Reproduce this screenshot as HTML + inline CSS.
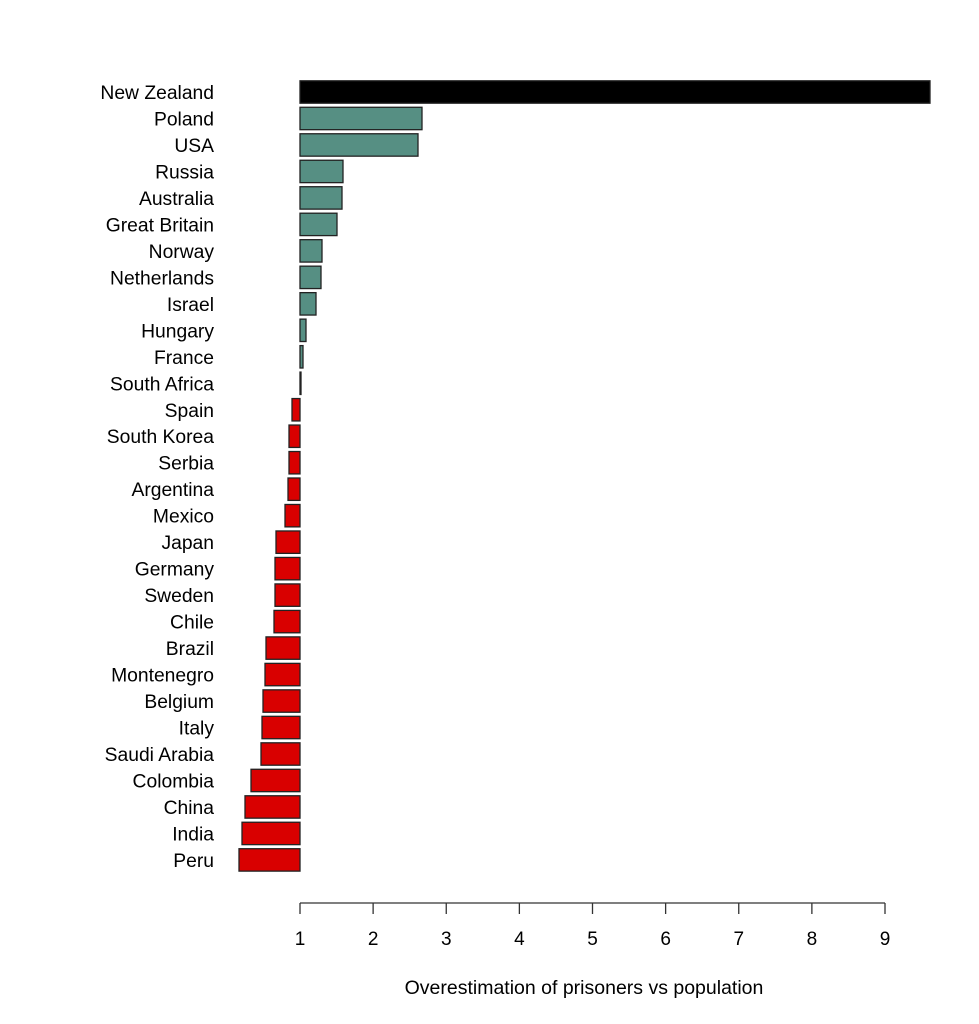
<!DOCTYPE html>
<html><head><meta charset="utf-8"><style>body{margin:0;background:#fff}svg{display:block}</style></head>
<body>
<svg width="979" height="1024" xmlns="http://www.w3.org/2000/svg" font-family="Liberation Sans, Arial, sans-serif">
<g id="bars" stroke="#222" stroke-width="1.3"></g>
<g id="labels" font-size="19.3" text-anchor="end" fill="#000"></g>
<g stroke="#333" stroke-width="1.3" fill="none">
<line x1="300" y1="903" x2="885" y2="903"/>
</g>
<g id="ticks" stroke="#333" stroke-width="1.3"></g>
<g id="tl" font-size="19" text-anchor="middle"></g>
<text x="584" y="994" font-size="19.5" text-anchor="middle">Overestimation of prisoners vs population</text>
<script>
var d=[["New Zealand",930,"#000"],["Poland",422],["USA",418],["Russia",343],["Australia",342],["Great Britain",337],["Norway",322],["Netherlands",321],["Israel",316],["Hungary",306],["France",303],["South Africa",301],["Spain",292],["South Korea",289],["Serbia",289],["Argentina",288],["Mexico",285],["Japan",276],["Germany",275],["Sweden",275],["Chile",274],["Brazil",266],["Montenegro",265],["Belgium",263],["Italy",262],["Saudi Arabia",261],["Colombia",251],["China",245],["India",242],["Peru",239]];
var ns="http://www.w3.org/2000/svg",b=document.getElementById("bars"),l=document.getElementById("labels");
d.forEach(function(r,i){var cy=92+i*26.48;var x1=Math.min(300,r[1]),x2=Math.max(300,r[1]);
var e=document.createElementNS(ns,"rect");e.setAttribute("x",x1);e.setAttribute("y",cy-11.2);e.setAttribute("width",Math.max(x2-x1,0.5));e.setAttribute("height",22.4);
e.setAttribute("fill",r[2]||(r[1]>300?"#568f83":"#d90000"));b.appendChild(e);
var t=document.createElementNS(ns,"text");t.setAttribute("x",214);t.setAttribute("y",cy+7);t.textContent=r[0];l.appendChild(t);});
var tk=document.getElementById("ticks"),tl=document.getElementById("tl");
for(var k=1;k<=9;k++){var x=300+(k-1)*73.125;var ln=document.createElementNS(ns,"line");ln.setAttribute("x1",x);ln.setAttribute("x2",x);ln.setAttribute("y1",903);ln.setAttribute("y2",914);tk.appendChild(ln);
var t=document.createElementNS(ns,"text");t.setAttribute("x",x);t.setAttribute("y",945);t.textContent=k;tl.appendChild(t);}
</script>
</svg>
</body></html>
